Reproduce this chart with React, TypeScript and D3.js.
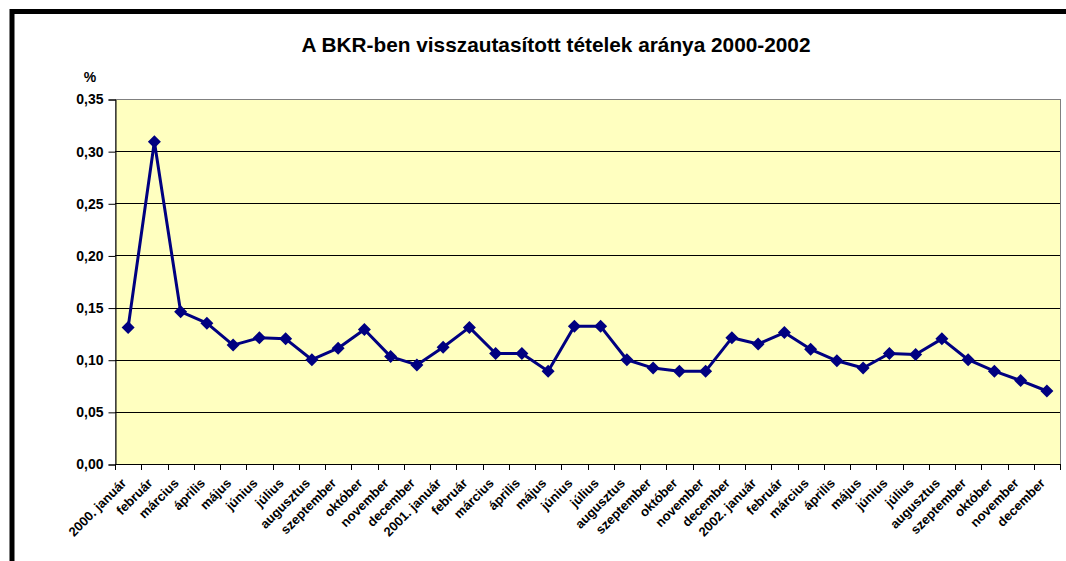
import React, { useEffect, useRef } from 'react';
import * as d3 from 'd3';

// havi címkék (3 év)
const months = [
  'január', 'február', 'március', 'április', 'május', 'június',
  'július', 'augusztus', 'szeptember', 'október', 'november', 'december',
];
const years = ['2000', '2001', '2002'];

const labels: string[] = years.flatMap((yr) =>
  months.map((m, i) => (i === 0 ? `${yr}. ${m}` : m))
);

// visszautasított tételek aránya, %
const values2000 = [0.131, 0.309, 0.146, 0.135, 0.114, 0.121, 0.120, 0.100, 0.111, 0.129, 0.103, 0.095];
const values2001 = [0.112, 0.131, 0.106, 0.106, 0.089, 0.132, 0.132, 0.100, 0.092, 0.089, 0.089, 0.121];
const values2002 = [0.115, 0.126, 0.110, 0.099, 0.092, 0.106, 0.105, 0.120, 0.100, 0.089, 0.080, 0.070];

const yTicks = [0, 0.05, 0.1, 0.15, 0.2, 0.25, 0.3, 0.35];

const App = () => {
  const svgRef = useRef<SVGSVGElement | null>(null);

  const colors = {
    border: '#000000',
    plotBg: '#FFFFC0',
    plotBorder: '#808080',
    grid: '#000000',
    axis: '#000000',
    line: '#000080',
    text: '#000000',
  };

  useEffect(() => {
    const svgEl = svgRef.current;
    if (!svgEl) return;
    const svg = d3.select(svgEl);
    svg.selectAll('*').remove();

    const width = 1066;
    const height = 561;
    const font = '"Liberation Sans", Arial, sans-serif';
    const plot = { left: 115, right: 1060, top: 99, bottom: 464 };

    const values = [...values2000, ...values2001, ...values2002];
    // a hónapnevek ismétlődnek, ezért index a kulcs
    const points = labels.map((l, i) => ({ i, label: l, value: values[i] }));
    const idx = labels.map((_, i) => i);

    svg.attr('width', width).attr('height', height);
    svg.append('rect').attr('width', width).attr('height', height).attr('fill', '#ffffff');

    // keret (csak felső és bal oldal látszik)
    svg
      .append('path')
      .attr('d', `M12,${height + 10} L12,11.5 L${width + 10},11.5`)
      .attr('fill', 'none')
      .attr('stroke', colors.border)
      .attr('stroke-width', 5);

    const x = d3.scaleBand<number>().domain(idx).range([plot.left, plot.right]);
    const y = d3.scaleLinear().domain([0, 0.35]).range([plot.bottom, plot.top]);
    const cx = (i: number) => (x(i) ?? 0) + x.bandwidth() / 2;

    // rajzterület
    svg
      .append('rect')
      .attr('x', plot.left + 0.5)
      .attr('y', plot.top + 0.5)
      .attr('width', plot.right - plot.left)
      .attr('height', plot.bottom - plot.top)
      .attr('fill', colors.plotBg)
      .attr('stroke', colors.plotBorder)
      .attr('stroke-width', 1);

    // rácsvonalak
    svg
      .append('g')
      .selectAll('line')
      .data(yTicks.filter((t) => t > 0 && t < 0.35))
      .enter()
      .append('line')
      .attr('x1', plot.left)
      .attr('x2', plot.right)
      .attr('y1', (d) => Math.round(y(d)) + 0.5)
      .attr('y2', (d) => Math.round(y(d)) + 0.5)
      .attr('stroke', colors.grid)
      .attr('stroke-width', 1);

    // Y tengely
    const yAxis = svg
      .append('g')
      .attr('transform', `translate(${plot.left + 0.5},0.5)`)
      .call(
        d3
          .axisLeft(y)
          .tickValues(yTicks)
          .tickSize(7)
          .tickPadding(5)
          .tickFormat((d) => d3.format('.2f')(d as number).replace('.', ','))
      );
    yAxis.select('.domain').attr('stroke', colors.axis);
    yAxis.selectAll('line').attr('stroke', colors.axis);
    yAxis
      .selectAll('text')
      .attr('fill', colors.text)
      .attr('font-size', 14)
      .attr('font-weight', 'bold')
      .attr('font-family', font);

    // X tengely
    const ticksX = d3.range(labels.length + 1).map((i) => plot.left + i * x.step());
    const xAxis = svg.append('g');
    xAxis
      .append('line')
      .attr('x1', plot.left)
      .attr('x2', plot.right)
      .attr('y1', plot.bottom + 0.5)
      .attr('y2', plot.bottom + 0.5)
      .attr('stroke', colors.axis);
    xAxis
      .selectAll('.tick')
      .data(ticksX)
      .enter()
      .append('line')
      .attr('class', 'tick')
      .attr('x1', (d) => Math.round(d) + 0.5)
      .attr('x2', (d) => Math.round(d) + 0.5)
      .attr('y1', plot.bottom)
      .attr('y2', plot.bottom + 6)
      .attr('stroke', colors.axis);
    xAxis
      .selectAll('.lbl')
      .data(points)
      .enter()
      .append('text')
      .attr('class', 'lbl')
      .attr('transform', (d) => `translate(${cx(d.i) - 1},${plot.bottom + 20}) rotate(-45)`)
      .attr('text-anchor', 'end')
      .attr('fill', colors.text)
      .attr('font-size', 13)
      .attr('font-weight', 'bold')
      .attr('font-family', font)
      .text((d) => d.label);

    // vonal
    const line = d3
      .line<{ i: number; label: string; value: number }>()
      .x((d) => cx(d.i))
      .y((d) => y(d.value));

    svg
      .append('path')
      .datum(points)
      .attr('fill', 'none')
      .attr('stroke', colors.line)
      .attr('stroke-width', 3)
      .attr('stroke-linejoin', 'round')
      .attr('d', line);

    // jelölők (rombusz)
    const diamond = 'M0,-6.5 L6.5,0 L0,6.5 L-6.5,0 Z';
    svg
      .append('g')
      .selectAll('path')
      .data(points)
      .enter()
      .append('path')
      .attr('d', diamond)
      .attr('transform', (d) => `translate(${cx(d.i)},${y(d.value)})`)
      .attr('fill', colors.line);

    // cím
    svg
      .append('text')
      .attr('x', 556)
      .attr('y', 52)
      .attr('text-anchor', 'middle')
      .attr('fill', colors.text)
      .attr('font-size', 20.8)
      .attr('font-weight', 'bold')
      .attr('font-family', font)
      .text('A BKR-ben visszautasított tételek aránya 2000-2002');

    // mértékegység
    svg
      .append('text')
      .attr('x', 90)
      .attr('y', 82)
      .attr('text-anchor', 'middle')
      .attr('fill', colors.text)
      .attr('font-size', 14)
      .attr('font-weight', 'bold')
      .attr('font-family', font)
      .text('%');
  }, []);

  return <svg ref={svgRef} style={{ position: 'absolute', left: 0, top: 0 }} />;
};

export default App;
